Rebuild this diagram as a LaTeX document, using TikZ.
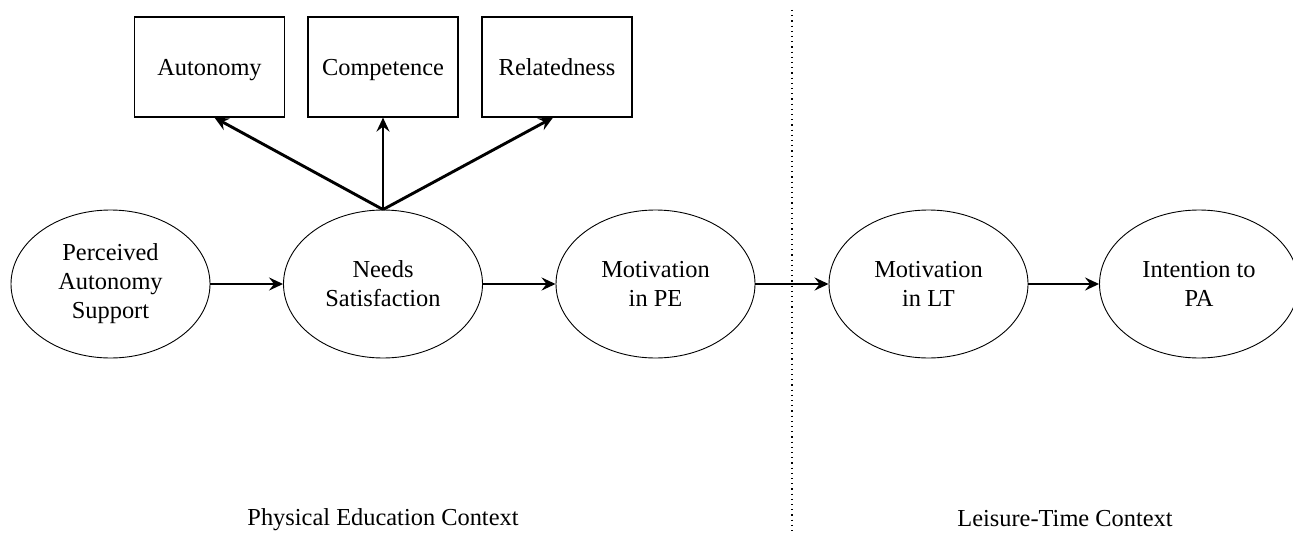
\documentclass[tikz,border=0pt]{standalone}
\usepackage{fontspec}
\setmainfont{Liberation Serif}
\usetikzlibrary{shapes.geometric,arrows.meta}
\begin{document}
\begin{tikzpicture}[x=0.5pt,y=-0.5pt,
  font=\fontsize{12.2pt}{14.5pt}\selectfont,
  latent/.style={draw, ellipse, line width=0.45pt, minimum width=99.5pt, minimum height=74pt, align=center, inner sep=0pt},
  need/.style={draw, rectangle, line width=0.6pt, minimum width=75pt, minimum height=50pt, inner sep=0pt, text height=9pt, text depth=0pt},
  pathway/.style={line width=1.45pt, -{Stealth[length=7pt,width=6.5pt,inset=2.5pt]}},
  divider/.style={dotted, line width=0.6pt},
  ctx/.style={inner sep=0pt}]
\useasboundingbox (0,0) rectangle (1293,534);
% need boxes
\node[need] (aut) at (209.5,67) {Autonomy};
\node[need] (com) at (383,67) {Competence};
\node[need] (rel) at (557,67) {Relatedness};
% latent variables
\node[latent] (pas) at (110.5,284) {Perceived\\Autonomy\\Support};
\node[latent] (ns) at (383,284) {Needs\\Satisfaction};
\node[latent] (mpe) at (655.5,284) {Motivation\\in PE};
\node[latent] (mlt) at (928.5,284) {Motivation\\in LT};
\node[latent] (ipa) at (1199,284) {Intention to\\PA};
% divider
\coordinate (dtop) at (792,10);
\coordinate (dbot) at (792,534);
\draw[divider] (dtop) -- (dbot);
% arrows
\draw[pathway] (pas) -- (ns);
\draw[pathway] (ns) -- (mpe);
\draw[pathway] (mpe) -- (mlt);
\draw[pathway] (mlt) -- (ipa);
\draw[pathway] (ns.north) -- ([xshift=2.5pt]aut.south);
\draw[pathway] (ns.north) -- (com.south);
\draw[pathway] (ns.north) -- ([xshift=-2pt]rel.south);
% context labels
\node[ctx] (pec) at (383,520) {Physical Education Context};
\node[ctx] (ltc) at (1065,519) {Leisure-Time Context};
\end{tikzpicture}
\end{document}
